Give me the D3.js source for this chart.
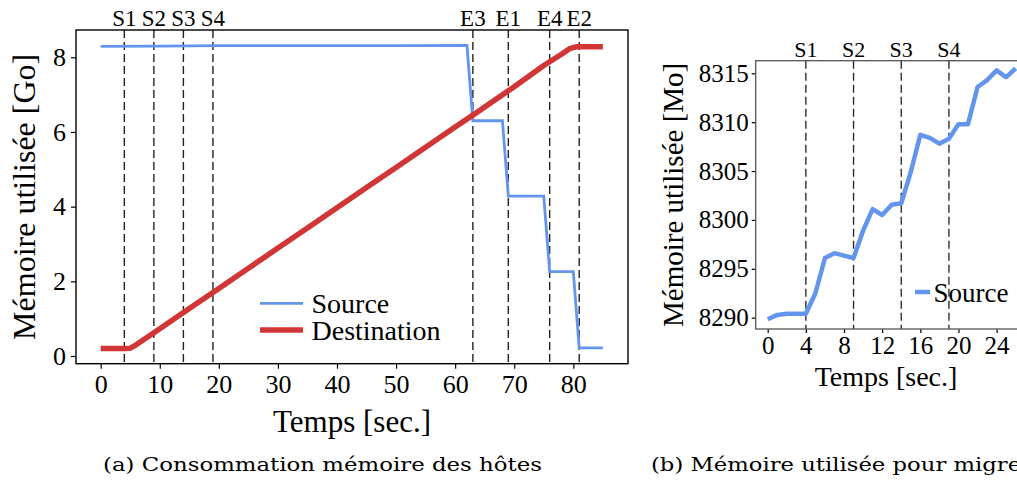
<!DOCTYPE html>
<html><head><meta charset="utf-8">
<script src="https://cdn.jsdelivr.net/npm/d3@7"></script>
<style>body{margin:0;background:#fff}svg{display:block}</style>
</head><body>
<svg id="c" width="1017" height="480"></svg>
<script>
// ---- data (panel a) ----
const srcTimes = [0, 10, 20, 30, 40, 50, 62, 63, 68, 69, 75, 76, 80, 81, 85];
const srcValues = [8.29, 8.30, 8.31, 8.31, 8.31, 8.31, 8.32, 6.30, 6.30, 4.28, 4.28, 2.26, 2.26, 0.22, 0.22];
const dstTimes = [0, 4, 5, 6, 10, 15, 20, 25, 30, 35, 40, 45, 50, 55, 60, 63, 65, 70, 75, 78, 79.5, 80.5, 85];
const dstValues = [0.2, 0.2, 0.21, 0.3, 0.73, 1.27, 1.81, 2.35, 2.89, 3.43, 3.97, 4.51, 5.05, 5.59, 6.13, 6.45, 6.67, 7.21, 7.78, 8.08, 8.24, 8.28, 8.28];
const eventTimes = [4, 9, 14, 19, 63, 69, 76, 81];
const eventLabels = ["S1", "S2", "S3", "S4", "E3", "E1", "E4", "E2"];
const xTicksA = [0, 10, 20, 30, 40, 50, 60, 70, 80];
const yTicksA = [0, 2, 4, 6, 8];
// ---- data (panel b) ----
const bTimes = [0,1,2,3,4,5,6,7,8,9,10,11,12,13,14,15,16,17,18,19,20,21,22,23,24,25,26];
const bValues = [8289.84, 8290.28, 8290.4, 8290.4, 8290.4, 8292.5, 8296.1, 8296.6, 8296.35, 8296.1, 8298.9, 8301.1, 8300.5, 8301.55, 8301.7, 8304.9, 8308.7, 8308.4, 8307.8, 8308.3, 8309.8, 8309.8, 8313.6, 8314.3, 8315.3, 8314.6, 8315.5];
const bEventTimes = [4, 9, 14, 19];
const bEventLabels = ["S1", "S2", "S3", "S4"];
const xTicksB = [0, 4, 8, 12, 16, 20, 24];
const yTicksB = [8290, 8295, 8300, 8305, 8310, 8315];

const BLUE = "#6495ed", RED = "#d23535";
const SERIF = "'Liberation Serif','Times New Roman',serif";
const svg = d3.select("#c");

function styleAxis(g, size) {
  g.select(".domain").remove();
  g.selectAll("text").attr("font-family", SERIF).attr("font-size", size).attr("fill", "#000");
  g.selectAll(".tick line").attr("stroke", "#000").attr("stroke-width", 1.2);
}

// ================= Panel A =================
const A = {l: 76, r: 628, t: 30, b: 363.7};
const xa = d3.scaleLinear().domain([-4.18, 89.26]).range([A.l, A.r]);
const ya = d3.scaleLinear().domain([-0.206, 8.73]).range([A.b, A.t]);

const ga = svg.append("g");
ga.append("g").attr("transform", `translate(0,${A.b})`)
  .call(d3.axisBottom(xa).tickValues(xTicksA).tickSize(5).tickPadding(6))
  .call(g => styleAxis(g, 26));
ga.append("g").attr("transform", `translate(${A.l},0)`)
  .call(d3.axisLeft(ya).tickValues(yTicksA).tickSize(5).tickPadding(5))
  .call(g => styleAxis(g, 26));

// event lines
ga.selectAll("line.ev").data(eventTimes).join("line")
  .attr("x1", d => xa(d)).attr("x2", d => xa(d))
  .attr("y1", A.t).attr("y2", A.b)
  .attr("stroke", "#222").attr("stroke-width", 1.4).attr("stroke-dasharray", "8,4");
ga.selectAll("text.ev").data(eventTimes).join("text")
  .attr("x", d => xa(d)).attr("y", 25.5).attr("text-anchor", "middle")
  .attr("font-family", SERIF).attr("font-size", 23).text((d, i) => eventLabels[i]);

const lineA = d3.line().x(d => xa(d[0])).y(d => ya(d[1]));
ga.append("path").datum(srcTimes.map((t, i) => [t, srcValues[i]]))
  .attr("d", lineA).attr("fill", "none").attr("stroke", BLUE).attr("stroke-width", 2.8);
ga.append("path").datum(dstTimes.map((t, i) => [t, dstValues[i]]))
  .attr("d", lineA).attr("fill", "none").attr("stroke", RED).attr("stroke-width", 5.5)
  .attr("stroke-linejoin", "round");

ga.append("rect").attr("x", A.l).attr("y", A.t).attr("width", A.r - A.l).attr("height", A.b - A.t)
  .attr("fill", "none").attr("stroke", "#000").attr("stroke-width", 1.4);

// legend A
const legA = [["Source", BLUE, 2.8, 303.3, 312.5], ["Destination", RED, 5.5, 330, 340]];
legA.forEach(([name, col, w, ly, ty]) => {
  ga.append("line").attr("x1", 260).attr("x2", 303).attr("y1", ly).attr("y2", ly)
    .attr("stroke", col).attr("stroke-width", w);
  ga.append("text").attr("x", 311.5).attr("y", ty).attr("font-family", SERIF)
    .attr("font-size", 28).text(name);
});

ga.append("text").attr("x", (A.l + A.r) / 2).attr("y", 432).attr("text-anchor", "middle")
  .attr("font-family", SERIF).attr("font-size", 31).text("Temps [sec.]");
ga.append("text").attr("transform", `translate(35,${(A.t + A.b) / 2}) rotate(-90)`)
  .attr("text-anchor", "middle").attr("font-family", SERIF).attr("font-size", 32)
  .text("Mémoire utilisée [Go]");

// ================= Panel B =================
const B = {l: 755.7, r: 1030, t: 60.7, b: 329};
const xb = d3.scaleLinear().domain([-1.258, 27.5]).range([B.l, B.r]);
const yb = d3.scaleLinear().domain([8288.84, 8316.29]).range([B.b, B.t]);
const gb = svg.append("g");
gb.append("g").attr("transform", `translate(0,${B.b})`)
  .call(d3.axisBottom(xb).tickValues(xTicksB).tickSize(4).tickPadding(3))
  .call(g => styleAxis(g, 25));
gb.append("g").attr("transform", `translate(${B.l},0)`)
  .call(d3.axisLeft(yb).tickValues(yTicksB).tickFormat(d3.format("d")).tickSize(4).tickPadding(3))
  .call(g => styleAxis(g, 25));

gb.selectAll("line.ev").data(bEventTimes).join("line")
  .attr("x1", d => xb(d)).attr("x2", d => xb(d))
  .attr("y1", B.t).attr("y2", B.b)
  .attr("stroke", "#222").attr("stroke-width", 1.3).attr("stroke-dasharray", "8,4");
gb.selectAll("text.ev").data(bEventTimes).join("text")
  .attr("x", d => xb(d)).attr("y", 57).attr("text-anchor", "middle")
  .attr("font-family", SERIF).attr("font-size", 22).text((d, i) => bEventLabels[i]);

const lineB = d3.line().x(d => xb(d[0])).y(d => yb(d[1]));
gb.append("path").datum(bTimes.map((t, i) => [t, bValues[i]]))
  .attr("d", lineB).attr("fill", "none").attr("stroke", BLUE).attr("stroke-width", 4.5)
  .attr("stroke-linejoin", "round");

gb.append("rect").attr("x", B.l).attr("y", B.t).attr("width", B.r - B.l).attr("height", B.b - B.t)
  .attr("fill", "none").attr("stroke", "#555").attr("stroke-width", 1.3);

gb.append("line").attr("x1", 915).attr("x2", 930).attr("y1", 292).attr("y2", 292)
  .attr("stroke", BLUE).attr("stroke-width", 4.5);
gb.append("text").attr("x", 933.5).attr("y", 301.5).attr("font-family", SERIF)
  .attr("font-size", 27).text("Source");

gb.append("text").attr("x", 886).attr("y", 386).attr("text-anchor", "middle")
  .attr("font-family", SERIF).attr("font-size", 28).text("Temps [sec.]");
gb.append("text").attr("transform", `translate(683,${(B.t + B.b) / 2}) rotate(-90)`)
  .attr("text-anchor", "middle").attr("font-family", SERIF).attr("font-size", 29)
  .text("Mémoire utilisée [Mo]");

// ================= Captions =================
const CAP = "'DejaVu Serif',serif";
svg.append("text").attr("x", 103).attr("y", 471).attr("font-family", CAP).attr("font-size", 19)
  .attr("textLength", 439).attr("lengthAdjust", "spacingAndGlyphs")
  .text("(a) Consommation mémoire des hôtes");
svg.append("text").attr("x", 651).attr("y", 471).attr("font-family", CAP).attr("font-size", 19)
  .attr("textLength", 381).attr("lengthAdjust", "spacingAndGlyphs")
  .text("(b) Mémoire utilisée pour migrer");
</script>
</body></html>
